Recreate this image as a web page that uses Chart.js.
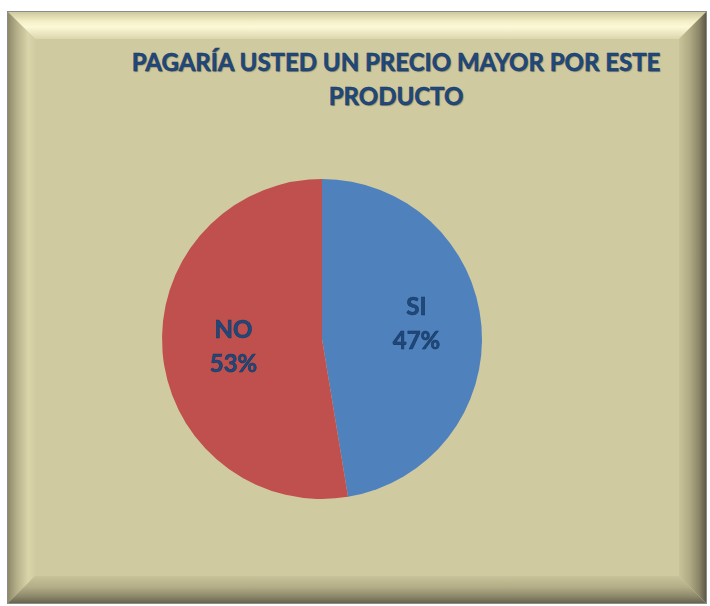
<!DOCTYPE html>
<html>
<head>
<meta charset="utf-8">
<script src="https://cdn.jsdelivr.net/npm/chart.js@4"></script>
<style>
    html, body { margin: 0; padding: 0; background: #ffffff; }
    #stage { position: relative; width: 710px; height: 606px; overflow: hidden; }
    .frame { position: absolute; left: 8px; top: 12px; width: 698px; height: 591px; background: #D0CAA1; box-shadow: 0 0 0 1px #8c8c86; }
    .bevel { position: absolute; }
    .bevel.top { left: 0; top: 0; width: 100%; height: 27px; clip-path: polygon(0 0, 100% 0, calc(100% - 27px) 100%, 27px 100%); background: linear-gradient(to bottom, #CEC89E 0%, #F4EFC6 35%, #FCF9D8 55%, #DCD6AC 100%); }
    .bevel.left { left: 0; top: 0; width: 27px; height: 100%; clip-path: polygon(0 0, 100% 27px, 100% calc(100% - 27px), 0 100%); background: linear-gradient(to right, #8E8A68 0%, #B8B28C 35%, #DAD4AA 75%, #D2CCA2 100%); }
    .bevel.right { right: 0; top: 0; width: 27px; height: 100%; clip-path: polygon(0 27px, 100% 0, 100% 100%, 0 calc(100% - 27px)); background: linear-gradient(to right, #C9C39A 0%, #B0AA84 40%, #8A8568 75%, #5C5946 100%); }
    .bevel.bottom { left: 0; bottom: 0; width: 100%; height: 27px; clip-path: polygon(27px 0, calc(100% - 27px) 0, 100% 100%, 0 100%); background: linear-gradient(to bottom, #C9C39A 0%, #B4AE88 40%, #8E896B 75%, #67634F 100%); }
    #title { position: absolute; left: 0; width: 792px; top: 45px; margin: 0; text-align: center; font: bold 24px Lato, sans-serif; line-height: 34px; color: #1F497D; -webkit-text-stroke: 0.5px #17375E; text-shadow: 1px 1px 1px rgba(0, 0, 0, 0.35); }
    #chart { position: absolute; left: 0; top: 0; }
</style>
</head>
<body>
<div id="stage">
    <div class="frame">
        <div class="bevel top"></div>
        <div class="bevel left"></div>
        <div class="bevel right"></div>
        <div class="bevel bottom"></div>
    </div>
    <h1 id="title">PAGARÍA USTED UN PRECIO MAYOR POR ESTE<br>PRODUCTO</h1>
    <canvas id="chart" width="710" height="606"></canvas>
</div>
<script>
const categories = ['SI', 'NO'];
const values = [47.4, 52.6];
const sliceColors = ['#4F81BD', '#C0504D'];

// labels inside the slices: name on one line, percent under it
const sliceLabels = {
    id: 'sliceLabels',
    afterDatasetsDraw(chart) {
        const ctx = chart.ctx;
        const meta = chart.getDatasetMeta(0);
        const total = values.reduce((a, b) => a + b, 0);
        ctx.save();
        ctx.font = "bold 24px Lato, sans-serif";
        ctx.fillStyle = '#1F497D';
        ctx.strokeStyle = '#17375E';
        ctx.lineWidth = 0.6;
        ctx.textAlign = 'center';
        ctx.textBaseline = 'middle';
        meta.data.forEach((arc, i) => {
            const p = arc.getProps(['x', 'y', 'startAngle', 'endAngle', 'outerRadius'], true);
            const mid = (p.startAngle + p.endAngle) / 2;
            const r = p.outerRadius * 0.58;
            const cx = p.x + Math.cos(mid) * r + (i === 0 ? 2 : 4);
            const cy = p.y + Math.sin(mid) * r - (i === 0 ? 7 : -1);
            const pct = Math.round(values[i] / total * 100) + '%';
            ctx.fillText(categories[i], cx, cy - 17);
            ctx.strokeText(categories[i], cx, cy - 17);
            ctx.fillText(pct, cx, cy + 17);
            ctx.strokeText(pct, cx, cy + 17);
        });
        ctx.restore();
    },
};

new Chart(document.getElementById('chart'), {
    type: 'pie',
    data: {
        labels: categories,
        datasets: [{
            data: values,
            backgroundColor: sliceColors,
            borderWidth: 0,
        }],
    },
    options: {
        responsive: false,
        animation: false,
        layout: {
            padding: { left: 162, right: 228, top: 179, bottom: 107 },
        },
        plugins: {
            legend: { display: false },
            tooltip: { enabled: false },
        },
    },
    plugins: [sliceLabels],
});
</script>
</body>
</html>
